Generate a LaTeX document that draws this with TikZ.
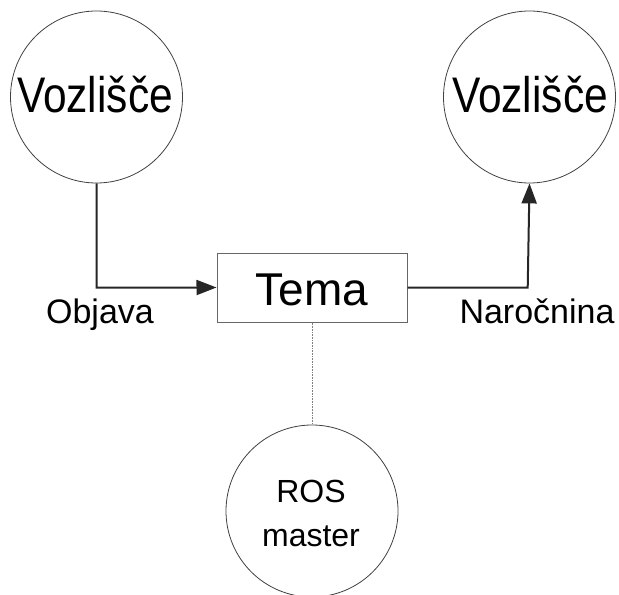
\documentclass[tikz,border=0pt]{standalone}
\usepackage{fontspec}
\setmainfont{Liberation Sans}
\newfontfamily\narrowfont[FakeStretch=0.85]{Liberation Sans}
\usetikzlibrary{arrows.meta}
\begin{document}
\begin{tikzpicture}[x=1bp,y=-1bp,
  nodecirc/.style={circle,draw=black!75,line width=0.8bp,minimum size=172bp,inner sep=0pt},
  topicbox/.style={rectangle,draw=black!60,line width=1bp,minimum width=190bp,minimum height=69bp,inner sep=0pt},
  conn/.style={line width=2bp,draw=black!85,-{Triangle[length=20bp,width=15bp]}},
  lbl/.style={font=\fontsize{34bp}{40bp}\selectfont,anchor=base,inner sep=0pt}]
\useasboundingbox (0,0) rectangle (619,595);
\node[nodecirc] (pub) at (96.5,97) {};
\node[nodecirc] (sub) at (529.5,97) {};
\node[font=\narrowfont\fontsize{50bp}{56bp}\selectfont,anchor=base,inner sep=0pt] at (95,113) {Vozlišče};
\node[font=\narrowfont\fontsize{50bp}{56bp}\selectfont,anchor=base,inner sep=0pt] at (530,113) {Vozlišče};
\node[topicbox] (tema) at (312,287.5) {};
\node[font=\fontsize{46bp}{50bp}\selectfont,anchor=base,inner sep=0pt] at (312,305) {Tema};
\node[circle,draw=black!75,line width=0.8bp,minimum size=172bp,inner sep=0pt] (ros) at (312,511) {};
\node[font=\fontsize{32bp}{44bp}\selectfont,anchor=base,inner sep=0pt] at (311,502) {ROS};
\node[font=\fontsize{32bp}{44bp}\selectfont,anchor=base,inner sep=0pt] at (311,546) {master};
\coordinate (c1) at (96.7,287.7);
\coordinate (c2) at (527.7,287.7);
\draw[conn] (pub.south) -- (c1) -- (tema.west);
\draw[conn] (tema.east) -- (c2) -- (sub.south);
\draw[draw=black!50,line width=0.6bp,densely dotted] (tema.south) -- (ros.north);
\node[lbl] (objava) at (100,323) {Objava};
\node[lbl] (narocnina) at (537,323) {Naročnina};
\end{tikzpicture}
\end{document}
